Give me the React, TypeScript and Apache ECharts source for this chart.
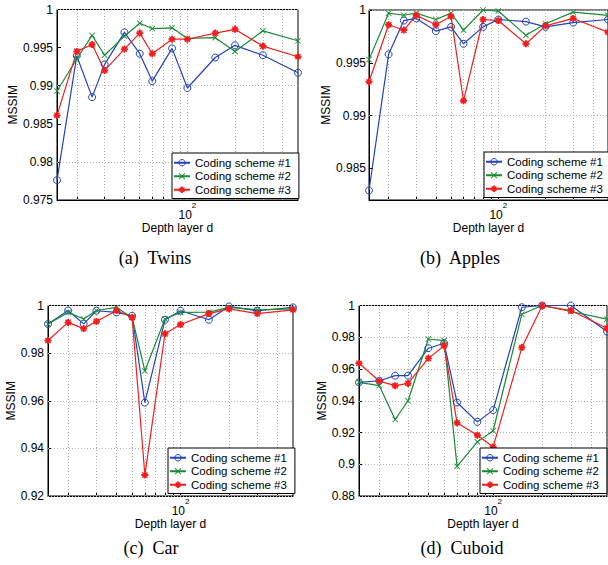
import React, { useEffect, useRef } from 'react';
import * as echarts from 'echarts';

// Depth layer d (x positions, log axis)
const depths = [15, 20, 25, 30, 40, 50, 60, 80, 100, 150, 200, 300, 500];
const schemeNames = ['Coding scheme #1', 'Coding scheme #2', 'Coding scheme #3'];

// (a) Twins
const twins1 = [0.9776, 0.9939, 0.9885, 0.9928, 0.9970, 0.9942, 0.9906, 0.9949, 0.9897, 0.9937, 0.9953, 0.9940, 0.9917];
const twins2 = [0.9893, 0.9935, 0.9966, 0.9940, 0.9965, 0.9982, 0.9975, 0.9976, 0.9962, 0.9963, 0.9945, 0.9972, 0.9959];
const twins3 = [0.9861, 0.9945, 0.9954, 0.9920, 0.9948, 0.9969, 0.9942, 0.9961, 0.9961, 0.9969, 0.9974, 0.9952, 0.9938];

// (b) Apples
const apples1 = [0.9829, 0.9958, 0.9990, 0.9992, 0.9980, 0.9984, 0.9968, 0.9984, 0.9991, 0.9989, 0.9984, 0.9988, 0.9991];
const apples2 = [0.9953, 0.9997, 0.9995, 0.9997, 0.9991, 0.9997, 0.9981, 1.0000, 0.9999, 0.9976, 0.9987, 0.9998, 0.9995];
const apples3 = [0.9932, 0.9986, 0.9981, 0.9995, 0.9986, 0.9994, 0.9914, 0.9991, 0.9990, 0.9968, 0.9985, 0.9992, 0.9979];

// (c) Car
const car1 = [0.9922, 0.9979, 0.9923, 0.9978, 0.9971, 0.9957, 0.9592, 0.9940, 0.9978, 0.9940, 0.9996, 0.9978, 0.9992];
const car2 = [0.9922, 0.9971, 0.9943, 0.9979, 0.9992, 0.9950, 0.9725, 0.9943, 0.9971, 0.9972, 0.9992, 0.9982, 0.9986];
const car3 = [0.9853, 0.9929, 0.9903, 0.9933, 0.9979, 0.9950, 0.9288, 0.9881, 0.9920, 0.9966, 0.9986, 0.9966, 0.9982];

// (d) Cuboid
const cuboid1 = [0.9516, 0.9526, 0.9558, 0.9558, 0.9731, 0.9762, 0.9389, 0.9267, 0.9341, 0.9989, 1.0000, 1.0000, 0.9836];
const cuboid2 = [0.9516, 0.9495, 0.9282, 0.9400, 0.9789, 0.9779, 0.8987, 0.9141, 0.9211, 0.9945, 1.0000, 0.9962, 0.9914];
const cuboid3 = [0.9636, 0.9524, 0.9495, 0.9509, 0.9667, 0.9747, 0.9261, 0.9183, 0.9109, 0.9735, 0.9999, 0.9968, 0.9857];

// Grid / tick values
const xGridValues = [20, 30, 40, 50, 60, 70, 80, 90, 100, 200, 300, 400];
const xLabelValues = [100];
const yTicksA = [0.975, 0.98, 0.985, 0.99, 0.995, 1];
const yTicksB = [0.985, 0.99, 0.995, 1];
const yTicksC = [0.92, 0.94, 0.96, 0.98, 1];
const yTicksD = [0.88, 0.9, 0.92, 0.94, 0.96, 0.98, 1];

const captions = ['(a)  Twins', '(b)  Apples', '(c)  Car', '(d)  Cuboid'];

const SANS = "'Liberation Sans', Arial, Helvetica, sans-serif";
const SERIF = "'Liberation Serif', 'Times New Roman', 'DejaVu Serif', serif";
const colors = ['#2343b8', '#198a35', '#f01e1e'];
const XSYM = 'path://M0,1L1,0L5,4L9,0L10,1L6,5L10,9L9,10L5,6L1,10L0,9L4,5Z';
const STAR = 'path://M0,3.6L10,3.6L10,6.4L0,6.4Z M3.6,0L6.4,0L6.4,10L3.6,10Z M2,0.6L9.4,8L8,9.4L0.6,2Z M0.6,8L8,0.6L9.4,2L2,9.4Z';
const symbols = ['circle', XSYM, STAR];
const symbolSizes = [7, 6, 7];

const panels = [
  { series: [twins1, twins2, twins3], yMin: 0.975, yMax: 1, yTicks: yTicksA,
    grid: { left: 57, top: 9.5, width: 241, height: 190.5 }, nameGap: 34, labelMargin: 4,
    legend: { left: 172, top: 153 }, caption: { x: 155, y: 258 } },
  { series: [apples1, apples2, apples3], yMin: 0.982, yMax: 1, yTicks: yTicksB,
    grid: { left: 369, top: 10, width: 240, height: 190 }, nameGap: 35, labelMargin: 3,
    legend: { left: 484, top: 152 }, caption: { x: 460, y: 258 } },
  { series: [car1, car2, car3], yMin: 0.92, yMax: 1, yTicks: yTicksC,
    grid: { left: 48, top: 305.5, width: 245, height: 190.5 }, nameGap: 30, labelMargin: 4,
    legend: { left: 168, top: 448 }, caption: { x: 151, y: 548 } },
  { series: [cuboid1, cuboid2, cuboid3], yMin: 0.88, yMax: 1, yTicks: yTicksD,
    grid: { left: 359, top: 305.5, width: 248, height: 190.5 }, nameGap: 30, labelMargin: 4,
    legend: { left: 480, top: 448 }, caption: { x: 462, y: 548 } },
];

export default function App() {
  const ref = useRef<HTMLDivElement>(null);
  useEffect(() => {
    if (!ref.current) return;
    const chart = echarts.init(ref.current, undefined, { renderer: 'svg' });
    const gridLine = { type: [1, 2], color: '#b0b0b0', width: 1 };
    const option: any = {
      animation: false,
      backgroundColor: '#fff',
      textStyle: { fontFamily: SANS },
      grid: panels.map((p) => ({ ...p.grid, show: true, borderColor: '#000', borderWidth: 1, backgroundColor: 'transparent' })),
      xAxis: panels.map((p, i) => ({
        type: 'log', logBase: 10, gridIndex: i, min: 15, max: 500,
        name: 'Depth layer d', nameLocation: 'middle', nameGap: 15,
        nameTextStyle: { fontSize: 12, color: '#000', fontFamily: SANS },
        axisLine: { show: true, lineStyle: { color: '#000', width: 1 } },
        axisTick: { show: true, inside: true, length: 3, customValues: xGridValues, lineStyle: { color: '#000' } },
        splitLine: { show: false },
        axisLabel: {
          customValues: xLabelValues,
          formatter: () => '{b|10}{s|2}',
          margin: 1,
          rich: {
            b: { fontSize: 12, color: '#000', fontFamily: SANS, lineHeight: 20, verticalAlign: 'bottom' },
            s: { fontSize: 8, color: '#000', fontFamily: SANS, lineHeight: 6, verticalAlign: 'top' },
          },
        },
      })),
      yAxis: panels.map((p, i) => ({
        type: 'value', gridIndex: i, min: p.yMin, max: p.yMax,
        name: 'MSSIM', nameLocation: 'middle', nameGap: p.nameGap, nameRotate: 90,
        nameTextStyle: { fontSize: 12, color: '#000', fontFamily: SANS },
        axisLine: { show: true, lineStyle: { color: '#000', width: 1 } },
        axisTick: { show: true, inside: true, length: 4, customValues: p.yTicks, lineStyle: { color: '#000' } },
        splitLine: { show: false },
        axisLabel: { customValues: p.yTicks, fontSize: 12, color: '#000', fontFamily: SANS, margin: p.labelMargin },
      })),
      legend: panels.map((p) => ({
        data: [
          { name: schemeNames[0], itemStyle: { color: 'rgba(255,255,255,0)', borderColor: colors[0], borderWidth: 1 } },
          { name: schemeNames[1] },
          { name: schemeNames[2] },
        ],
        orient: 'vertical', left: p.legend.left, top: p.legend.top,
        itemWidth: 16, itemHeight: 8, itemGap: 0, padding: [3, 8, 2, 1],
        backgroundColor: '#fff', borderColor: '#000', borderWidth: 1, borderRadius: 0,
        selectedMode: false,
        textStyle: { fontSize: 11.5, color: '#000', fontFamily: SANS, lineHeight: 13.5 },
      })),
      graphic: panels.map((p, i) => ({
        type: 'text', x: p.caption.x, y: p.caption.y,
        style: { text: captions[i], fontSize: 18, fontFamily: SERIF, fill: '#000', align: 'center', verticalAlign: 'middle', textAlign: 'center', textVerticalAlign: 'middle' },
      })),
      series: panels.flatMap((p, i) =>
        p.series.map((vals, k) => ({
          type: 'line', name: schemeNames[k], xAxisIndex: i, yAxisIndex: i,
          data: depths.map((d, j) => [d, vals[j]]),
          symbol: symbols[k], symbolSize: symbolSizes[k],
          lineStyle: { width: 1.2, color: colors[k] },
          itemStyle: k === 0
            ? { color: 'rgba(255,255,255,0)', borderColor: colors[k], borderWidth: 1 }
            : { color: colors[k], borderWidth: 0 },
          emphasis: { disabled: true },
          markLine: k === 0 ? {
            silent: true, symbol: ['none', 'none'], z: 1, label: { show: false },
            emphasis: { disabled: true }, lineStyle: gridLine,
            data: [
              ...xGridValues.map((v) => ({ xAxis: v })),
              ...p.yTicks.map((v) => ({ yAxis: v })),
            ],
          } : undefined,
        }))
      ),
    };
    chart.setOption(option);
    return () => chart.dispose();
  }, []);
  return <div ref={ref} style={{ position: 'fixed', left: 0, top: 0, width: 608, height: 565, background: '#fff' }} />;
}
